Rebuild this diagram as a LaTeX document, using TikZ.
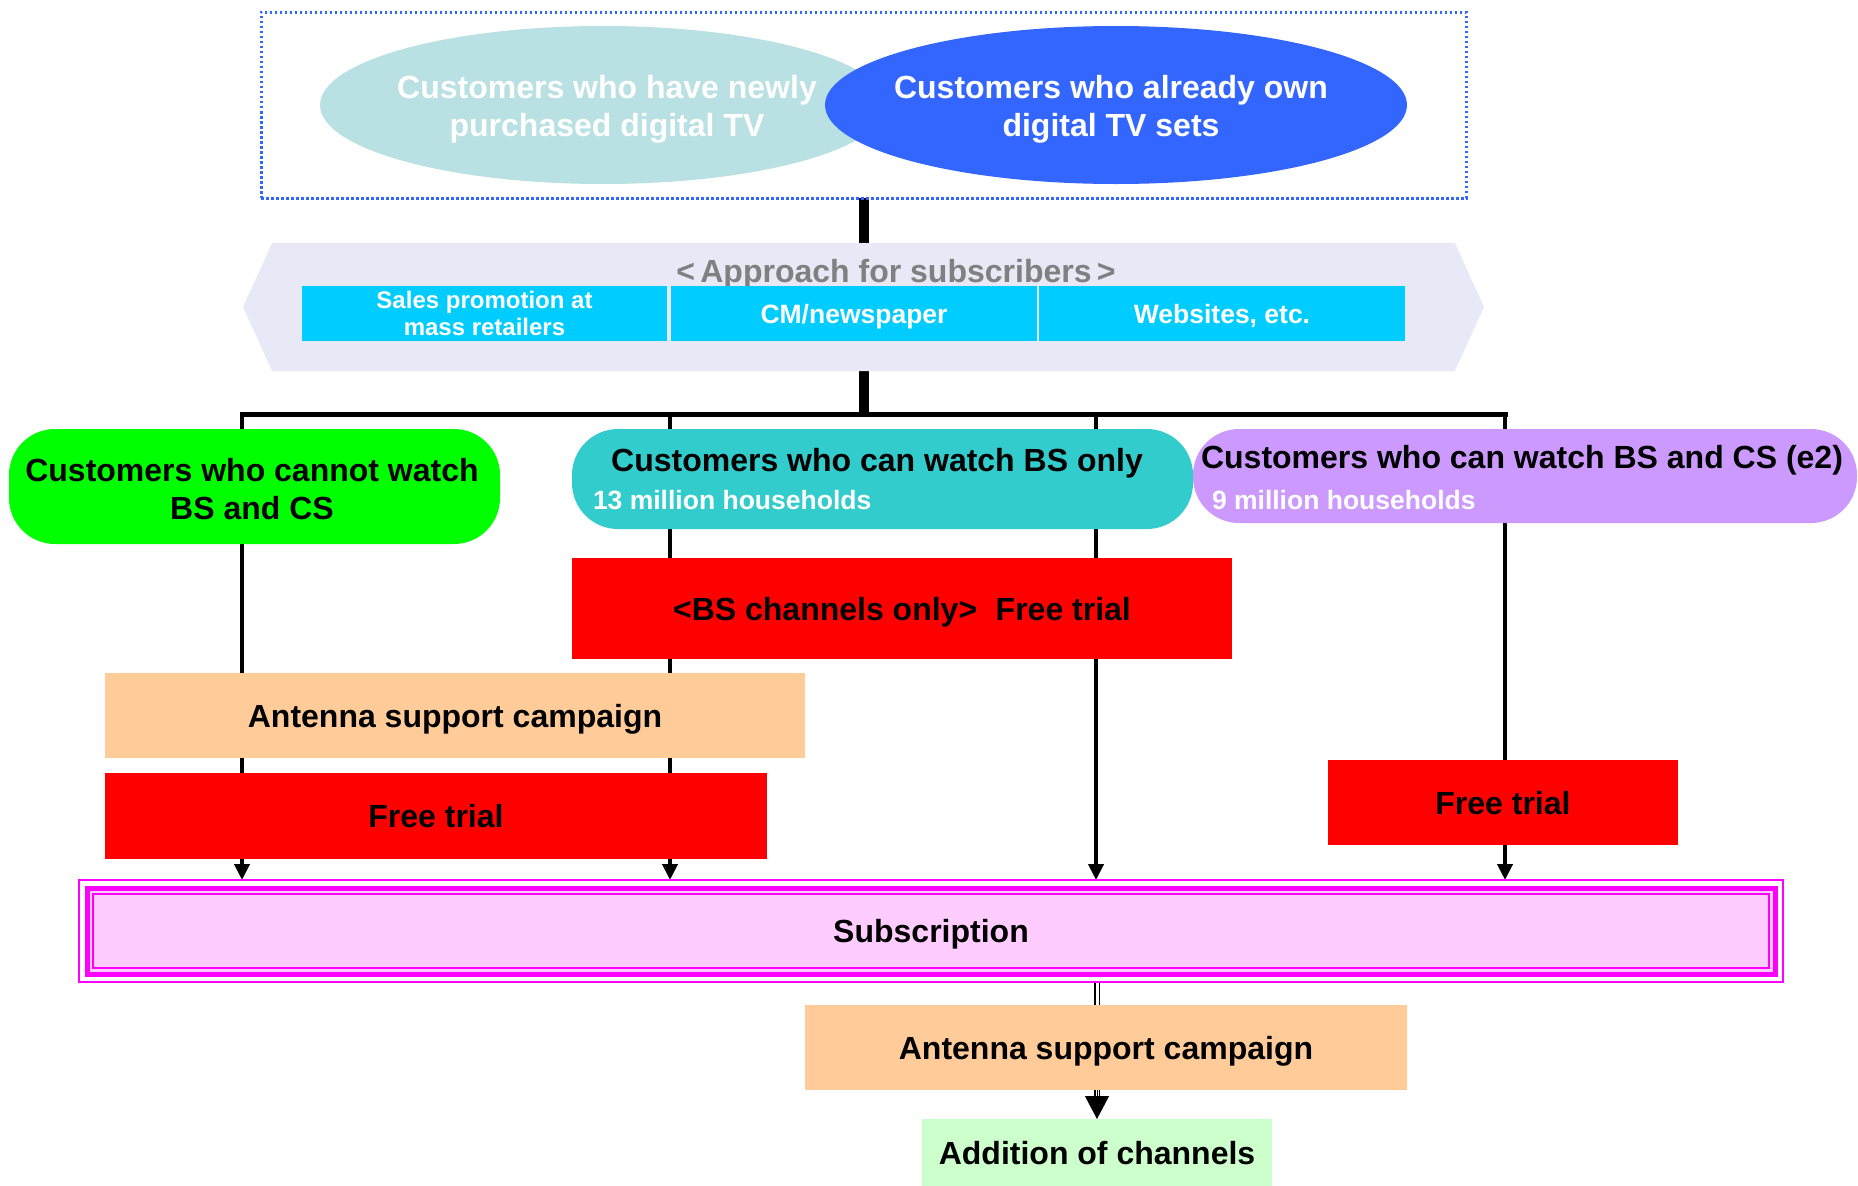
\documentclass[tikz,border=0pt]{standalone}
\usepackage{fontspec}
\setmainfont{Liberation Sans}
\usetikzlibrary{shapes.geometric,shapes.symbols,arrows.meta,backgrounds}
\definecolor{lightell}{RGB}{185,224,226}
\definecolor{blueell}{RGB}{51,102,255}
\definecolor{cyanbox}{RGB}{0,204,255}
\definecolor{greenbox}{RGB}{0,255,0}
\definecolor{tealbox}{RGB}{51,204,204}
\definecolor{purplebox}{RGB}{204,153,255}
\definecolor{redbox}{RGB}{255,0,0}
\definecolor{peach}{RGB}{255,204,153}
\definecolor{mint}{RGB}{204,255,204}
\definecolor{mag}{RGB}{255,0,255}
\definecolor{pinkfill}{RGB}{255,204,255}
\definecolor{bandfill}{RGB}{232,232,246}
\definecolor{graytext}{RGB}{128,128,128}
\begin{document}
\begin{tikzpicture}[x=1pt,y=-1pt,
  every node/.style={inner sep=0pt, outer sep=0pt, align=center,
    font=\bfseries\fontsize{32}{38}\selectfont},
  smallfont/.style={font=\bfseries\fontsize{26.5}{28}\selectfont},
  cyanfont/.style={font=\bfseries\fontsize{24}{27}\selectfont},
  capcenter/.style={text height=23pt, text depth=0pt},
  smallcap/.style={text height=19pt, text depth=0pt},
  rbox/.style={rectangle, fill=#1},
  pill/.style={rectangle, rounded corners=46pt, fill=#1},
  vline/.style={line width=4pt, -{Triangle[length=16pt,width=15pt]}},
  busline/.style={line width=5pt, line cap=rect},
  thickline/.style={line width=10pt},
  dbl/.style={double, line width=1.5pt, double distance=3pt}
]
\useasboundingbox (0,0) rectangle (1858,1186);

% top dotted frame with ellipses
\node (top) [rectangle, draw=blueell, line width=3pt, dash pattern=on 2.5pt off 2.5pt,
  minimum width=1205pt, minimum height=186pt] at (863.5,105) {};
\node (newtv) [ellipse, fill=lightell, minimum width=566pt, minimum height=158pt] at (603,105) {};
\node (newtvt) [text=white] at (607,109) {Customers who have newly\\purchased digital TV};
\node (owntv) [ellipse, fill=blueell, minimum width=582pt, minimum height=158pt] at (1116,105) {};
\node (owntvt) [text=white] at (1111,109) {Customers who already own\\digital TV sets};

% approach band
\node (band) [signal, signal to=west and east, signal pointer angle=131, fill=bandfill,
  minimum width=1241pt, minimum height=128pt] at (863.5,307) {};
\node (apptitle) [text=graytext] at (896,274.5) {<\,Approach for subscribers\,>};
\node (c1) [rbox=cyanbox, text=white, cyanfont, minimum width=365pt, minimum height=55pt]
  at (484.5,313.5) {Sales promotion at\\mass retailers};
\node (c2) [rbox=cyanbox, text=white, smallfont, smallcap, minimum width=366pt, minimum height=55pt]
  at (854,313.5) {CM/newspaper};
\node (c3) [rbox=cyanbox, text=white, smallfont, smallcap, minimum width=366pt, minimum height=55pt]
  at (1222,313.5) {Websites, etc.};

% customer groups
\node (green) [pill=greenbox, minimum width=491pt, minimum height=115pt] at (254.5,486.5) {};
\node (greent) at (252,489) {Customers who cannot watch\\BS and CS};
\node (teal) [pill=tealbox, minimum width=621pt, minimum height=100pt] at (882.5,479) {};
\node (tealt) at (877,463.5) {Customers who can watch BS only};
\node (tealn) [anchor=west, text=white, smallfont] at (593,500) {13 million households};
\node (purple) [pill=purplebox, minimum width=664pt, minimum height=94pt] at (1525,476) {};
\node (purplet) at (1522,460.5) {Customers who can watch BS and CS (e2)};
\node (purplen) [anchor=west, text=white, smallfont] at (1212,500) {9 million households};

% campaigns
\node (bsfree) [rbox=redbox, capcenter, minimum width=660pt, minimum height=101pt]
  at (902,608.5) {<BS channels only>\hspace{0.3em} Free trial};
\node (ant1) [rbox=peach, capcenter, minimum width=700pt, minimum height=85pt]
  at (455,715.5) {Antenna support campaign};
\node (free1) [rbox=redbox, capcenter, minimum width=662pt, minimum height=86pt]
  at (436,816) {Free trial};
\node (free2) [rbox=redbox, capcenter, minimum width=350pt, minimum height=85pt]
  at (1503,802.5) {Free trial};

% subscription
\node (sub) [rectangle, draw=mag, line width=2.5pt, capcenter, minimum width=1704pt, minimum height=102pt]
  at (931,931) {Subscription};

\node (ant2) [rbox=peach, capcenter, minimum width=602pt, minimum height=85pt]
  at (1106,1047.5) {Antenna support campaign};
\node (add) [rbox=mint, capcenter, minimum width=350pt, minimum height=67pt]
  at (1097,1152.5) {Addition of channels};

\coordinate (j1) at (242,414);
\coordinate (j2) at (670,414);
\coordinate (j3) at (1096,414);
\coordinate (j4) at (1505,414);
\coordinate (jm) at (864,414);

\begin{pgfonlayer}{background}
  \draw[mag, line width=5pt, fill=pinkfill]
    ([shift={(8pt,-8pt)}]sub.north west) rectangle ([shift={(-8pt,8pt)}]sub.south east);
  \draw[mag, line width=1.5pt]
    ([shift={(14pt,-14pt)}]sub.north west) rectangle ([shift={(-14pt,14pt)}]sub.south east);
  \draw[thickline] (top.south -| jm) -- (band.north -| jm);
  \draw[thickline] (band.south -| jm) -- (jm);
  \draw[busline] (j1) -- (j4);
  \draw[vline] (j1) -- (sub.north -| j1);
  \draw[vline] (j2) -- (sub.north -| j2);
  \draw[vline] (j3) -- (sub.north -| j3);
  \draw[vline] (j4) -- (sub.north -| j4);
  \draw[dbl] (sub.south -| add.north) -- (ant2.north -| add.north);
  \draw[dbl] (ant2.south -| add.north) -- ++(0,6);
  \draw[line width=1pt, -{Triangle[length=23pt,width=24pt]}] (ant2.south -| add.north) -- (add.north);
\end{pgfonlayer}
\end{tikzpicture}
\end{document}
